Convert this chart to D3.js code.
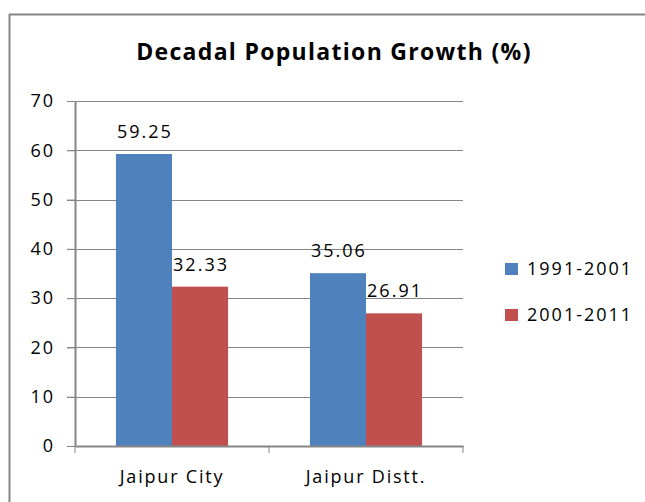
<!DOCTYPE html>
<meta charset="utf-8">
<script src="https://d3js.org/d3.v7.min.js"></script>
<style>
  body { margin: 0; background: #fff; }
  text { font-family: "Open Sans", sans-serif; fill: #000; }
</style>
<svg id="chart" width="645" height="502"></svg>
<script>

// chart data
var categories = ["Jaipur City", "Jaipur Distt."];
var seriesNames = ["1991-2001", "2001-2011"];
var growth9101 = [59.25, 35.06];
var growth0111 = [32.33, 26.91];
var yTicks = [0, 10, 20, 30, 40, 50, 60, 70];
var colors = ["#4F81BD", "#C0504D"];

var svg = d3.select("#chart");

// outer frame (only left and top edges visible)
svg.append("line").attr("x1", 9.5).attr("x2", 9.5).attr("y1", 14).attr("y2", 502)
  .attr("stroke", "#868686").attr("stroke-width", 2);
svg.append("line").attr("x1", 9).attr("x2", 645).attr("y1", 14.5).attr("y2", 14.5)
  .attr("stroke", "#868686").attr("stroke-width", 2);

// title
svg.append("text")
  .attr("x", 334).attr("y", 60)
  .attr("text-anchor", "middle")
  .style("font-size", "23px").style("font-weight", "bold")
  .style("letter-spacing", "1.3px")
  .text("Decadal Population Growth (%)");

var margin = {left: 75, top: 101, right: 182, bottom: 56};
var width = 645 - margin.left - margin.right,
    height = 502 - margin.top - margin.bottom;

var g = svg.append("g").attr("transform", "translate(" + margin.left + "," + margin.top + ")");

var x = d3.scaleBand().domain(categories).range([0, width]).paddingInner(0).paddingOuter(0);
var x1 = d3.scaleBand().domain(seriesNames).range([0, x.bandwidth()]).paddingInner(0).paddingOuter(0.73);
var y = d3.scaleLinear().domain([0, 70]).range([height, 0]);

// gridlines
g.selectAll(".grid").data(yTicks.filter(function(d) { return d > 0; }))
  .enter().append("line")
  .attr("x1", -8).attr("x2", width)
  .attr("y1", function(d) { return Math.round(y(d)) + 0.5; })
  .attr("y2", function(d) { return Math.round(y(d)) + 0.5; })
  .attr("stroke", "#868686").attr("stroke-width", 1);

// bars
var rows = categories.map(function(c, i) {
  return {cat: c, vals: [growth9101[i], growth0111[i]]};
});
var grp = g.selectAll(".grp").data(rows).enter().append("g")
  .attr("transform", function(d) { return "translate(" + x(d.cat) + ",0)"; });

grp.selectAll("rect").data(function(d) { return d.vals.map(function(v, j) { return {s: seriesNames[j], v: v, j: j}; }); })
  .enter().append("rect")
  .attr("x", function(d) { return x1(d.s); })
  .attr("width", x1.bandwidth())
  .attr("y", function(d) { return y(d.v); })
  .attr("height", function(d) { return height - y(d.v); })
  .attr("fill", function(d) { return colors[d.j]; });

// data labels
grp.selectAll(".lbl").data(function(d) { return d.vals.map(function(v, j) { return {s: seriesNames[j], v: v, j: j}; }); })
  .enter().append("text")
  .attr("x", function(d) { return x1(d.s) + x1.bandwidth() / 2 + 1; })
  .attr("y", function(d) { return y(d.v) - 16; })
  .attr("text-anchor", "middle")
  .style("font-size", "18px")
  .style("letter-spacing", "2px")
  .text(function(d) { return d3.format(".2f")(d.v); });

// y axis
var yAxis = g.append("g")
  .call(d3.axisLeft(y).tickValues(yTicks).tickSize(8).tickSizeOuter(0).tickPadding(12));
yAxis.select(".domain").attr("stroke", "#868686").attr("stroke-width", 2);
yAxis.selectAll(".tick line").attr("stroke", "#868686");
yAxis.selectAll("text").style("font-size", "18px").style("letter-spacing", "2px")
  .attr("fill", "#000").attr("font-family", null);

// x axis
var xAxis = g.append("g").attr("transform", "translate(0," + height + ")")
  .call(d3.axisBottom(x).tickSize(0).tickPadding(24));
xAxis.select(".domain").attr("stroke", "#868686").attr("stroke-width", 2);
xAxis.selectAll("text").style("font-size", "18px").style("letter-spacing", "1.8px")
  .attr("fill", "#000").attr("font-family", null);
// category boundary ticks
xAxis.selectAll(".bound").data([0, width / 2, width]).enter().append("line")
  .attr("x1", function(d) { return d; }).attr("x2", function(d) { return d; })
  .attr("y1", 0).attr("y2", 7).attr("stroke", "#868686");

// legend
var leg = svg.append("g").attr("transform", "translate(505,269)");
seriesNames.forEach(function(s, i) {
  var row = leg.append("g").attr("transform", "translate(0," + (i * 46) + ")");
  row.append("rect").attr("x", 0).attr("y", -6).attr("width", 13).attr("height", 12).attr("fill", colors[i]);
  row.append("text").attr("x", 22).attr("y", 0).attr("dy", "0.35em")
    .style("font-size", "18px").style("letter-spacing", "2px").text(s);
});

</script>
